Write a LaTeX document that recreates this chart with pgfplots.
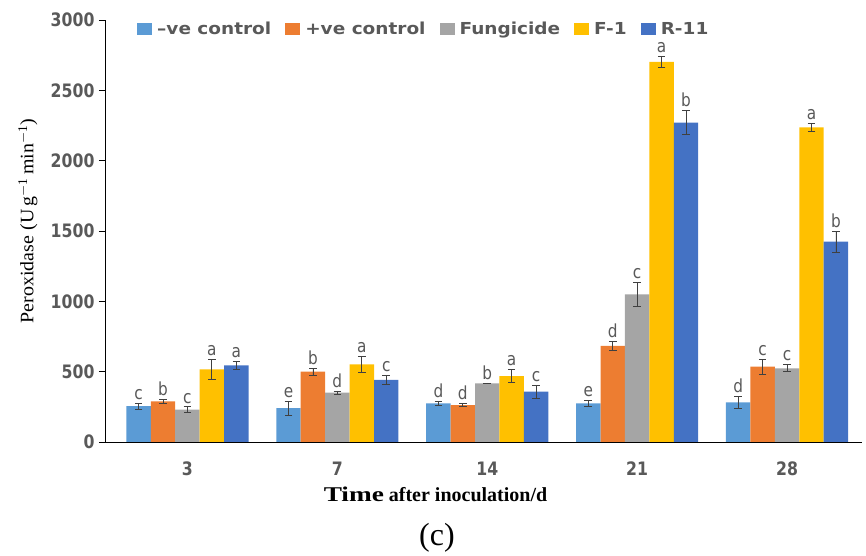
\documentclass[border=0pt]{standalone}
\usepackage{fontspec}
\setmainfont{Liberation Serif}
\newfontfamily\tickfont[FakeStretch=0.85]{DejaVu Sans}
\newfontfamily\legfont[FakeStretch=1.12]{DejaVu Sans}
\newfontfamily\serifwide[FakeStretch=1.3]{Liberation Serif}
\newfontfamily\seriflab[FakeStretch=1.05]{Liberation Serif}
\usepackage{pgfplots}
\usepackage{pgfplotstable}
\pgfplotsset{compat=1.18}
\definecolor{cneg}{HTML}{5B9BD5}
\definecolor{cpos}{HTML}{ED7D31}
\definecolor{cfun}{HTML}{A5A5A5}
\definecolor{cf}{HTML}{FFC000}
\definecolor{cr}{HTML}{4472C4}
\definecolor{txtgray}{HTML}{595959}
\definecolor{errgray}{HTML}{404040}
\pgfplotstableread{
day n ne nl p pe pl f fe fl g ge gl r re rl
3  255 20 c 289 15 b 230 20 c 517 70 a 545 30 a
7  240 50 e 500 25 b 351 12 d 552 55 a 441 35 c
14 275 12 d 263 10 d 417 3 b 469 45 a 358 45 c
21 275 20 e 684 30 d 1050 85 c 2703 38 a 2270 85 b
28 282 45 d 535 55 c 524 25 c 2237 28 a 1424 73 b
}\data
\begin{document}
\begin{tikzpicture}
\begin{axis}[
  at={(0,0)}, anchor=south west,
  scale only axis, width=757pt, height=422pt,
  xmin=-0.55, xmax=4.5, ymin=0, ymax=3000,
  axis x line*=bottom, axis y line*=left,
  axis line style={black, line width=0.9pt},
  xtick={0,1,2,3,4}, xticklabels={3,7,14,21,28},
  x tick style={draw=none},
  ytick={0,500,...,3000},
  y tick style={black, line width=0.9pt},
  tick align=outside, major tick length=6pt,
  /pgf/number format/assume math mode=true,
  yticklabel style={/pgf/number format/1000 sep={}},
  ticklabel style={font=\tickfont\bfseries\fontsize{18.5}{20}\selectfont, text=txtgray},
  xticklabel style={yshift=-10pt},
  yticklabel style={xshift=-1pt},
  xlabel={\textbf{\serifwide\fontsize{21}{22}\selectfont Time}\textbf{\fontsize{20}{22}\selectfont{} after inoculation/d}},
  xlabel style={at={(axis description cs:0.5,0)}, anchor=north, yshift=-41pt, xshift=-48pt},
  ylabel={\seriflab\fontsize{19}{20}\selectfont Peroxidase (U\,g$^{\mathrm{-1}}$\,min$^{\mathrm{-1}}$)},
  ylabel style={at={(axis description cs:0,0.5)}, anchor=south, yshift=64pt, xshift=10pt},
  legend style={at={(0.0423,0.998)}, anchor=north west, draw=none, fill=none, inner sep=0pt,
    legend columns=-1, font=\legfont\bfseries\fontsize{16.5}{18}\selectfont, text=txtgray,
    nodes={inner xsep=0pt, inner ysep=1pt},
    /tikz/every odd column/.append style={column sep=5pt},
    /tikz/every even column/.append style={column sep=14pt}},
  legend image code/.code={\fill[#1] (0pt,-6pt) rectangle (15pt,6pt);},
  bar width=0.163, bar shift=0,
  error bars/y dir=both, error bars/y explicit,
  error bars/error bar style={errgray, line width=0.8pt},
  error bars/error mark options={rotate=90, mark size=3.8pt, line width=0.8pt, errgray},
  clip=false,
]
\addplot[ybar, fill=cneg, draw=none] table[x expr=\coordindex-0.326, y=n, y error=ne]{\data};
\addplot[ybar, fill=cpos, draw=none] table[x expr=\coordindex-0.163, y=p, y error=pe]{\data};
\addplot[ybar, fill=cfun, draw=none] table[x expr=\coordindex, y=f, y error=fe]{\data};
\addplot[ybar, fill=cf, draw=none] table[x expr=\coordindex+0.163, y=g, y error=ge]{\data};
\addplot[ybar, fill=cr, draw=none] table[x expr=\coordindex+0.326, y=r, y error=re]{\data};
\legend{–ve control, +ve control, Fungicide, F-1, R-11}
\pgfplotsset{every node near coord/.style={font=\tickfont\fontsize{18}{20}\selectfont, text=txtgray, anchor=south, yshift=0pt}}
\addplot[draw=none, mark=none, nodes near coords, point meta=explicit symbolic, forget plot, error bars/y dir=none]
  table[x expr=\coordindex-0.326, y expr=\thisrow{n}+\thisrow{ne}, meta=nl]{\data};
\addplot[draw=none, mark=none, nodes near coords, point meta=explicit symbolic, forget plot, error bars/y dir=none]
  table[x expr=\coordindex-0.163, y expr=\thisrow{p}+\thisrow{pe}, meta=pl]{\data};
\addplot[draw=none, mark=none, nodes near coords, point meta=explicit symbolic, forget plot, error bars/y dir=none]
  table[x expr=\coordindex, y expr=\thisrow{f}+\thisrow{fe}, meta=fl]{\data};
\addplot[draw=none, mark=none, nodes near coords, point meta=explicit symbolic, forget plot, error bars/y dir=none]
  table[x expr=\coordindex+0.163, y expr=\thisrow{g}+\thisrow{ge}, meta=gl]{\data};
\addplot[draw=none, mark=none, nodes near coords, point meta=explicit symbolic, forget plot, error bars/y dir=none]
  table[x expr=\coordindex+0.326, y expr=\thisrow{r}+\thisrow{re}, meta=rl]{\data};
\end{axis}
\node[font=\fontsize{32}{34}\selectfont] at (332pt,-96pt) {(c)};
\path[use as bounding box] (-105pt,-112pt) rectangle (761pt,442pt);
\end{tikzpicture}
\end{document}
